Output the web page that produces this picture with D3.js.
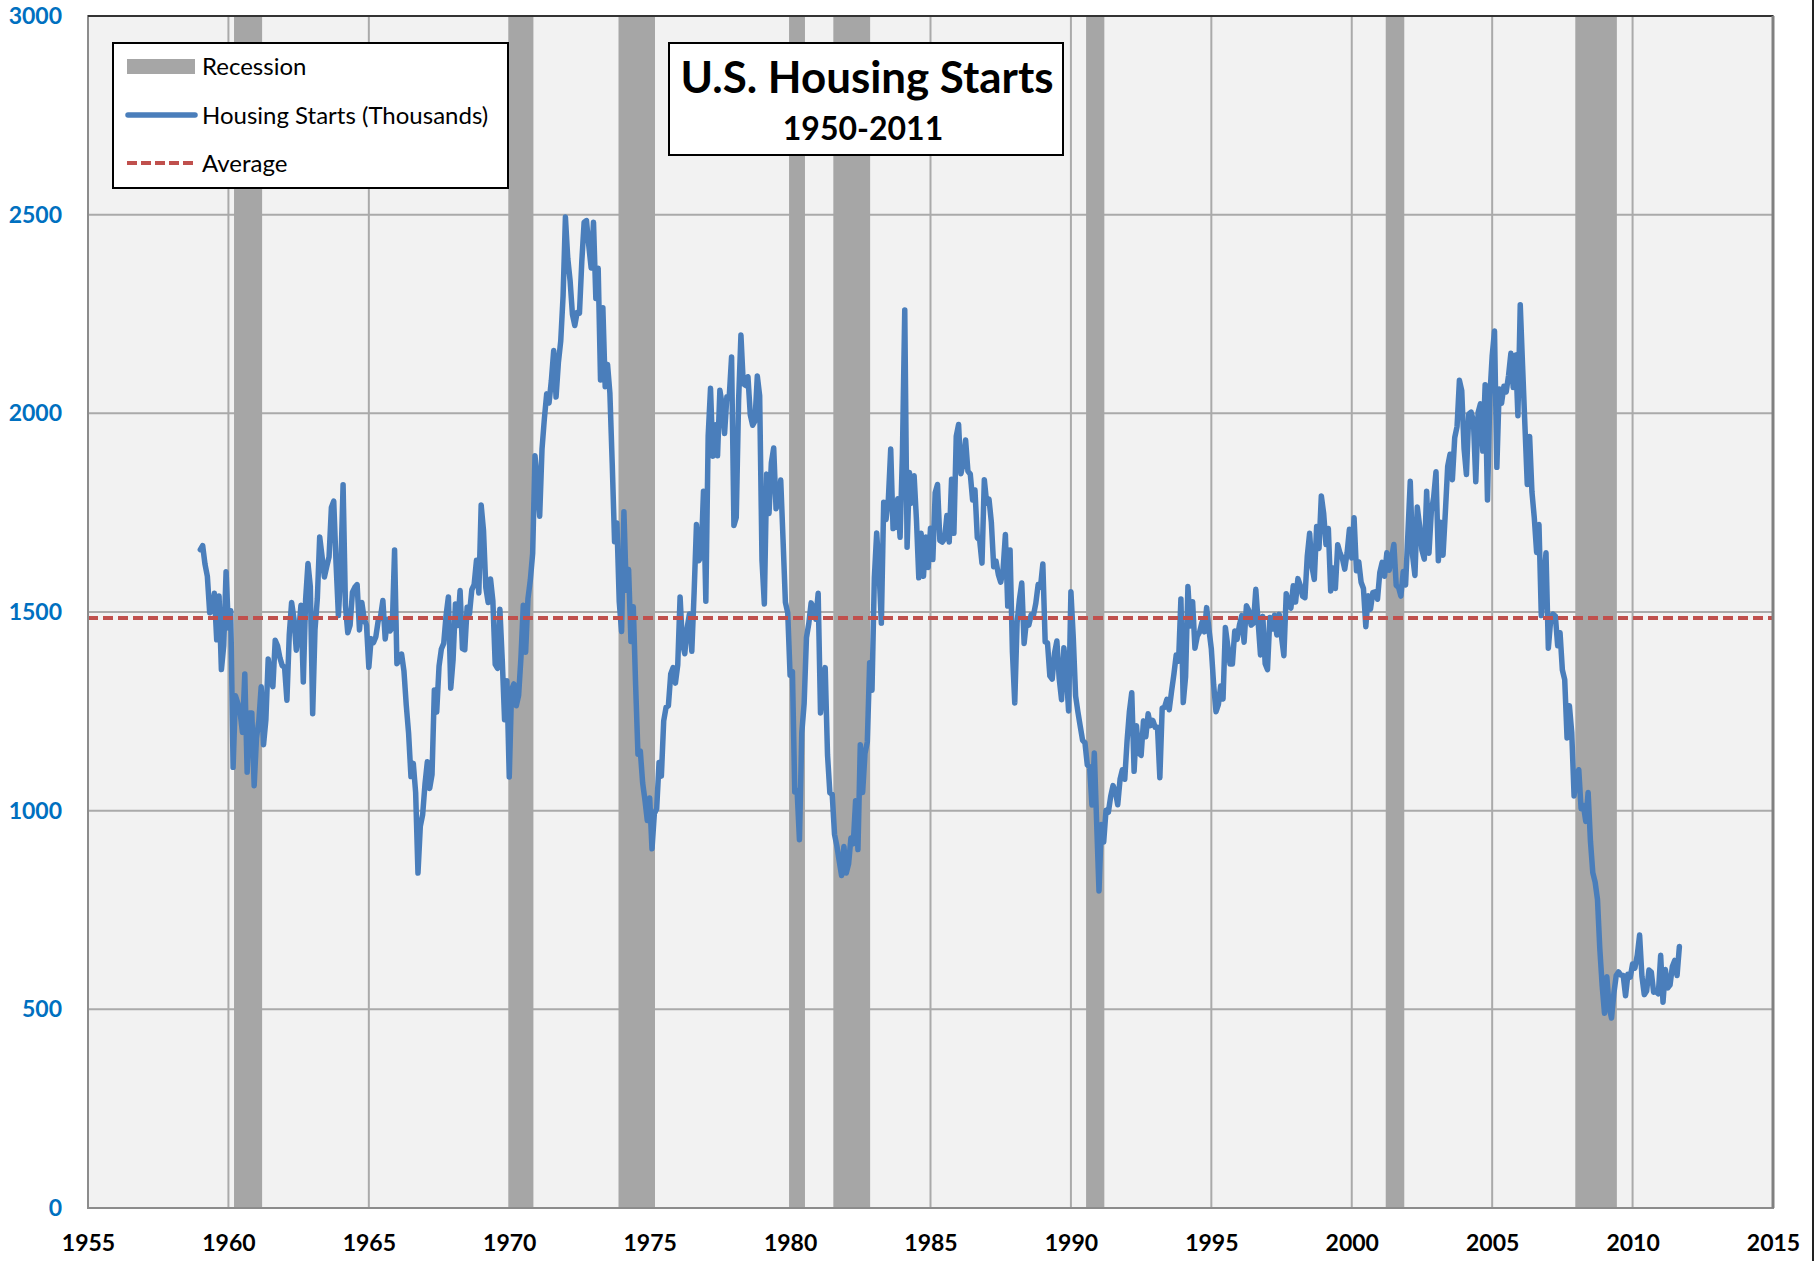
<!DOCTYPE html>
<html>
<head>
<meta charset="utf-8">
<script src="https://cdn.jsdelivr.net/npm/d3@7"></script>
<style>
  body { margin: 0; background: #fff; }
  svg { display: block; font-family: Lato, "Open Sans", sans-serif; }
</style>
</head>
<body>
<svg id="chart" width="1816" height="1261"></svg>
<script>
// monthly housing starts (thousands, SAAR), starting Jan 1959
var firstYear = 1959;
var housingStarts = [
  1657,1667,1620,1590,1498,1503,1547,1430,1540,1355,1416,1601, // 1959
  1460,1503,1109,1289,1271,1247,1197,1344,1097,1246,1246,1063, // 1960
  1183,1226,1312,1166,1228,1382,1335,1312,1429,1415,1385,1365,
  1361,1278,1443,1524,1483,1404,1450,1517,1324,1533,1622,1564,
  1244,1456,1534,1689,1641,1588,1614,1639,1763,1779,1622,1491,
  1603,1820,1517,1448,1467,1550,1562,1569,1455,1524,1483,1467,
  1361,1433,1423,1438,1478,1488,1529,1432,1482,1452,1460,1656, // 1965
  1370,1378,1394,1352,1265,1194,1086,1119,1046,843,961,990,
  1067,1123,1056,1091,1304,1248,1364,1407,1421,1491,1538,1308,
  1380,1520,1466,1554,1408,1405,1512,1495,1556,1569,1630,1548,
  1769,1705,1561,1524,1583,1528,1368,1358,1507,1381,1229,1327,
  1085,1305,1319,1264,1290,1385,1517,1399,1534,1580,1647,1893, // 1970
  1828,1741,1910,1986,2049,2026,2083,2158,2041,2128,2182,2295,
  2494,2390,2334,2249,2221,2254,2252,2382,2481,2485,2421,2366,
  2481,2289,2365,2084,2266,2067,2123,2051,1874,1677,1724,1526,
  1451,1752,1555,1607,1426,1513,1316,1142,1150,1070,1026,975,
  1032,904,993,1005,1121,1087,1226,1260,1264,1344,1360,1321,   // 1975
  1367,1538,1421,1395,1459,1495,1401,1550,1720,1629,1641,1804,
  1527,1943,2063,1892,1971,1893,2058,2020,1949,2042,2042,2142,
  1718,1738,2032,2197,2075,2070,2092,1996,1970,1981,2094,2044,
  1630,1520,1847,1748,1876,1913,1760,1778,1832,1681,1524,1498,
  1341,1350,1047,1051,927,1196,1269,1436,1471,1523,1510,1482,  // 1980
  1547,1246,1306,1360,1140,1045,1041,940,911,873,837,910,
  843,866,931,917,1025,902,1166,1046,1144,1173,1372,1303,
  1586,1699,1606,1472,1776,1733,1785,1910,1710,1715,1785,1688,
  1897,2260,1663,1851,1774,1843,1732,1586,1698,1590,1689,1612,
  1711,1632,1800,1821,1680,1676,1684,1743,1676,1834,1698,1942, // 1985
  1972,1848,1876,1933,1854,1847,1782,1807,1687,1681,1623,1833,
  1774,1784,1726,1614,1628,1594,1575,1605,1695,1515,1656,1400,
  1271,1473,1532,1573,1421,1478,1467,1493,1492,1522,1569,1563,
  1621,1425,1422,1339,1331,1397,1427,1332,1279,1410,1351,1251,
  1551,1437,1289,1248,1212,1177,1171,1115,1110,1014,1145,969,  // 1990
  798,965,921,1001,996,1036,1063,1049,1015,1079,1103,1079,
  1176,1250,1297,1099,1214,1145,1139,1226,1186,1244,1214,1227,
  1210,1210,1083,1258,1260,1280,1254,1300,1343,1392,1376,1533,
  1272,1337,1564,1465,1526,1409,1439,1450,1474,1450,1511,1455,
  1407,1316,1249,1267,1314,1281,1461,1416,1369,1369,1452,1431, // 1995
  1467,1491,1424,1516,1504,1467,1472,1557,1475,1392,1489,1370,
  1355,1486,1457,1492,1442,1494,1437,1390,1546,1520,1510,1566,
  1525,1584,1567,1540,1536,1641,1698,1614,1582,1715,1660,1792,
  1748,1670,1710,1553,1611,1559,1669,1648,1635,1608,1648,1708,
  1636,1737,1604,1626,1575,1559,1463,1541,1507,1549,1551,1532, // 2000
  1600,1625,1590,1649,1605,1636,1670,1567,1562,1540,1602,1568,
  1698,1829,1642,1592,1764,1717,1655,1633,1804,1648,1753,1788,
  1853,1629,1726,1643,1751,1867,1897,1833,1939,1967,2083,2057,
  1911,1846,1998,2003,1981,1828,2002,2024,1905,2072,1782,2042,
  2144,2207,1864,2061,2025,2068,2054,2095,2151,2065,2147,1994, // 2005
  2273,2119,1969,1821,1942,1802,1737,1650,1720,1491,1570,1649,
  1409,1480,1495,1490,1415,1448,1354,1330,1183,1264,1197,1037,
  1084,1103,1005,1013,973,1046,923,844,820,777,652,560,
  490,582,505,478,540,585,594,586,585,534,588,581,
  614,604,636,687,583,537,546,599,594,543,545,539,             // 2010
  636,518,600,554,561,608,623,585,658
];

var averageStarts = 1485;

// recession shading, in decimal years
var recessionStart = [1960.2, 1970.0, 1973.89, 1979.98, 1981.54, 1990.54, 2001.21, 2007.96];
var recessionEnd   = [1961.2, 1970.86, 1975.19, 1980.53, 1982.85, 1991.19, 2001.87, 2009.44];

var xTicks = [1955, 1960, 1965, 1970, 1975, 1980, 1985, 1990, 1995, 2000, 2005, 2010, 2015];
var yTicks = [0, 500, 1000, 1500, 2000, 2500, 3000];

var legendLabels = ["Recession", "Housing Starts (Thousands)", "Average"];
var titleText = "U.S. Housing Starts";
var subtitleText = "1950-2011";

var margin = {top: 16, right: 43, bottom: 53, left: 88};
var width = 1816 - margin.left - margin.right;
var height = 1261 - margin.top - margin.bottom;

var svg = d3.select('#chart');
var chart = svg.append('g')
  .attr('transform', 'translate(' + margin.left + ',' + margin.top + ')');

var x = d3.scaleLinear().domain([1955, 2015]).range([0, width]);
var y = d3.scaleLinear().domain([0, 3000]).range([height, 0]);

var data = housingStarts.map(function(v, i) {
  return {t: firstYear + i / 12, v: v};
});

// plot background
chart.append('rect')
  .attr('width', width).attr('height', height)
  .attr('fill', '#f2f2f2');

// gridlines
chart.append('g').selectAll('line')
  .data(yTicks)
  .enter().append('line')
  .attr('x1', 0).attr('x2', width)
  .attr('y1', function(d) { return y(d); })
  .attr('y2', function(d) { return y(d); })
  .attr('stroke', '#aaaaaa').attr('stroke-width', 2);

chart.append('g').selectAll('line')
  .data(xTicks)
  .enter().append('line')
  .attr('x1', function(d) { return x(d); })
  .attr('x2', function(d) { return x(d); })
  .attr('y1', 0).attr('y2', height)
  .attr('stroke', '#aaaaaa').attr('stroke-width', 2);

// recessions
chart.append('g').selectAll('rect')
  .data(recessionStart)
  .enter().append('rect')
  .attr('x', function(d) { return x(d); })
  .attr('width', function(d, i) { return x(recessionEnd[i]) - x(d); })
  .attr('y', 0).attr('height', height)
  .attr('fill', '#a6a6a6');

// housing starts line
var line = d3.line()
  .x(function(d) { return x(d.t); })
  .y(function(d) { return y(d.v); });

chart.append('path')
  .datum(data)
  .attr('d', line)
  .attr('fill', 'none')
  .attr('stroke', '#4a7ebb')
  .attr('stroke-width', 5.5)
  .attr('stroke-linejoin', 'round')
  .attr('stroke-linecap', 'round');

// average
chart.append('line')
  .attr('x1', 0).attr('x2', width)
  .attr('y1', y(averageStarts)).attr('y2', y(averageStarts))
  .attr('stroke', '#c0504d')
  .attr('stroke-width', 4)
  .attr('stroke-dasharray', '10,5');

// frame
chart.append('rect')
  .attr('width', width).attr('height', height)
  .attr('fill', 'none')
  .attr('stroke', '#8c8c8c').attr('stroke-width', 2);
chart.append('line')
  .attr('x1', 0).attr('x2', width).attr('y1', 0).attr('y2', 0)
  .attr('stroke', '#333').attr('stroke-width', 2);
chart.append('line')
  .attr('x1', width).attr('x2', width).attr('y1', 0).attr('y2', height)
  .attr('stroke', '#808080').attr('stroke-width', 3);

// axes (labels only)
var yAxis = chart.append('g')
  .call(d3.axisLeft(y).tickValues(yTicks).tickSize(0).tickPadding(26).tickFormat(d3.format('d')));
yAxis.select('.domain').remove();
yAxis.selectAll('text')
  .attr('fill', '#0070c0')
  .style('font-size', '23px')
  .style('font-weight', 'bold')
  .style('font-family', 'Lato, sans-serif');

var xAxis = chart.append('g')
  .attr('transform', 'translate(0,' + height + ')')
  .call(d3.axisBottom(x).tickValues(xTicks).tickSize(0).tickPadding(27).tickFormat(d3.format('d')));
xAxis.select('.domain').remove();
xAxis.selectAll('text')
  .attr('fill', '#000')
  .style('font-size', '23px')
  .style('font-weight', 'bold')
  .style('font-family', 'Lato, sans-serif');

// outer right border
svg.append('line')
  .attr('x1', 1813).attr('x2', 1813).attr('y1', 0).attr('y2', 1261)
  .attr('stroke', '#222').attr('stroke-width', 2);

// legend
var legend = svg.append('g').attr('transform', 'translate(113,43)');
legend.append('rect')
  .attr('width', 395).attr('height', 145)
  .attr('fill', '#fff').attr('stroke', '#000').attr('stroke-width', 2);

var rowY = [23, 72, 120];
legend.append('rect')
  .attr('x', 14).attr('y', rowY[0] - 7).attr('width', 68).attr('height', 15)
  .attr('fill', '#a6a6a6');
legend.append('line')
  .attr('x1', 15).attr('x2', 82).attr('y1', rowY[1]).attr('y2', rowY[1])
  .attr('stroke', '#4a7ebb').attr('stroke-width', 5.5).attr('stroke-linecap', 'round');
legend.append('line')
  .attr('x1', 14).attr('x2', 82).attr('y1', rowY[2]).attr('y2', rowY[2])
  .attr('stroke', '#c0504d').attr('stroke-width', 4).attr('stroke-dasharray', '10,4');

legend.selectAll('text.lbl')
  .data(legendLabels)
  .enter().append('text')
  .attr('class', 'lbl')
  .attr('x', 89)
  .attr('y', function(d, i) { return rowY[i] + 9; })
  .style('font-size', '24px')
  .text(function(d) { return d; });

// title box
var tbox = svg.append('g').attr('transform', 'translate(669,43)');
tbox.append('rect')
  .attr('width', 394).attr('height', 112)
  .attr('fill', '#fff').attr('stroke', '#000').attr('stroke-width', 2);
tbox.append('text')
  .attr('x', 198).attr('y', 50)
  .attr('text-anchor', 'middle')
  .attr('textLength', 373).attr('lengthAdjust', 'spacingAndGlyphs')
  .style('font-size', '44px').style('font-weight', 'bold')
  .text(titleText);
tbox.append('text')
  .attr('x', 194).attr('y', 97)
  .attr('text-anchor', 'middle')
  .style('font-size', '32px').style('font-weight', 'bold')
  .text(subtitleText);
</script>
</body>
</html>
